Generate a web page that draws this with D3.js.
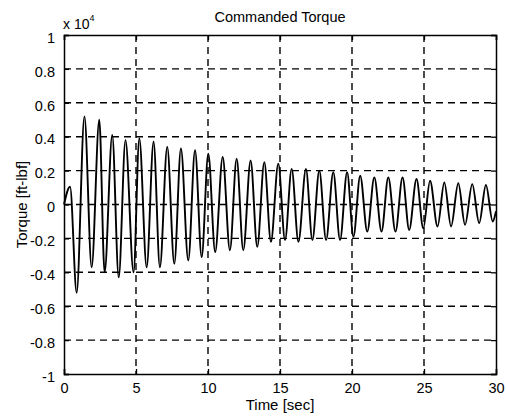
<!DOCTYPE html>
<html><head><meta charset="utf-8">
<script src="https://cdn.jsdelivr.net/npm/d3@7"></script>
<style>
body{margin:0;background:#fff;}
text{font-family:"Liberation Sans",Arial,Helvetica,sans-serif;fill:#000;}
</style></head>
<body><svg id="c" width="506" height="418"></svg>
<script>
// Extrema of the commanded torque signal (time in sec, value in x10^4 ft-lbf)
const times = [0, 0.42, 0.88, 1.42, 1.92, 2.45, 2.82, 3.35, 3.8, 4.27, 4.83, 5.23, 5.74, 6.22, 6.66, 7.17, 7.66, 8.12, 8.63, 9.1, 9.56, 10.02, 10.5, 11.02, 11.52, 11.99, 12.45, 12.96, 13.42, 13.91, 14.37, 14.88, 15.35, 15.81, 16.28, 16.8, 17.25, 17.73, 18.2, 18.7, 19.17, 19.66, 20.1, 20.57, 21.06, 21.55, 22.05, 22.52, 23.02, 23.51, 23.97, 24.48, 24.95, 25.42, 25.94, 26.41, 26.88, 27.38, 27.85, 28.35, 28.83, 29.3, 29.77, 30];
const torque = [0, 0.105, -0.52, 0.52, -0.37, 0.50, -0.40, 0.41, -0.43, 0.38, -0.40, 0.39, -0.37, 0.37, -0.37, 0.34, -0.35, 0.33, -0.33, 0.32, -0.31, 0.30, -0.28, 0.28, -0.27, 0.27, -0.27, 0.26, -0.25, 0.25, -0.22, 0.24, -0.21, 0.21, -0.22, 0.21, -0.21, 0.20, -0.21, 0.19, -0.21, 0.19, -0.19, 0.17, -0.16, 0.16, -0.16, 0.16, -0.16, 0.16, -0.15, 0.15, -0.14, 0.14, -0.13, 0.13, -0.13, 0.125, -0.12, 0.12, -0.11, 0.115, -0.10, -0.04];
const xTicks = [0, 5, 10, 15, 20, 25, 30];
const yTicks = [-1, -0.8, -0.6, -0.4, -0.2, 0, 0.2, 0.4, 0.6, 0.8, 1];
const yTickLabels = ["-1", "-0.8", "-0.6", "-0.4", "-0.2", "0", "0.2", "0.4", "0.6", "0.8", "1"];
const titleText = "Commanded Torque";
const xLabel = "Time [sec]";
const yLabel = "Torque [ft-lbf]";

const svg = d3.select("#c");
const L = 64, R = 496, T = 35, B = 374;
const x = d3.scaleLinear().domain([0, 30]).range([L, R]);
const y = d3.scaleLinear().domain([-1, 1]).range([B, T]);

// grid
const g = svg.append("g");
g.selectAll("line.vx").data(xTicks.slice(1, -1)).join("line")
  .attr("x1", d => x(d)).attr("x2", d => x(d)).attr("y1", T).attr("y2", B)
  .attr("stroke", "#000").attr("stroke-width", 1.4).attr("stroke-dasharray", "7,5");
g.selectAll("line.hy").data(yTicks.slice(1, -1)).join("line")
  .attr("y1", d => y(d)).attr("y2", d => y(d)).attr("x1", L).attr("x2", R)
  .attr("stroke", "#000").attr("stroke-width", 1.4).attr("stroke-dasharray", "7,5");

// signal
const pts = times.map((t, i) => [t, torque[i]]);
svg.append("path").datum(pts)
  .attr("d", d3.line().x(d => x(d[0])).y(d => y(d[1])).curve(d3.curveMonotoneX))
  .attr("fill", "none").attr("stroke", "#000").attr("stroke-width", 1.9);

// axes (MATLAB style, ticks inward)
const xa = svg.append("g").attr("transform", `translate(0,${B})`)
  .call(d3.axisBottom(x).tickValues(xTicks).tickSize(-5).tickPadding(9).tickFormat(d3.format("d")));
const xa2 = svg.append("g").attr("transform", `translate(0,${T})`)
  .call(d3.axisTop(x).tickValues(xTicks).tickSize(-5).tickFormat(""));
const ya = svg.append("g").attr("transform", `translate(${L},0)`)
  .call(d3.axisLeft(y).tickValues(yTicks).tickSize(-5).tickPadding(9).tickFormat((d, i) => yTickLabels[i]));
const ya2 = svg.append("g").attr("transform", `translate(${R},0)`)
  .call(d3.axisRight(y).tickValues(yTicks).tickSize(-5).tickFormat(""));
[xa, xa2, ya, ya2].forEach(a => {
  a.selectAll("path.domain").attr("stroke", "#000").attr("stroke-width", 1.5);
  a.selectAll(".tick line").attr("stroke", "#000").attr("stroke-width", 1.3);
  a.selectAll("text").attr("font-size", 14.5).attr("font-family", "Liberation Sans, Arial, sans-serif").attr("fill", "#000");
});
xa.selectAll("text").attr("dy", "0.72em");
ya.selectAll("text").attr("dy", "0.5em");

// title & labels
svg.append("text").attr("x", (L + R) / 2).attr("y", 22).attr("text-anchor", "middle")
  .attr("font-size", 14.5).text(titleText);
svg.append("text").attr("x", (L + R) / 2).attr("y", 410).attr("text-anchor", "middle")
  .attr("font-size", 15).text(xLabel);
svg.append("text").attr("transform", `translate(27,${(T + B) / 2}) rotate(-90)`).attr("text-anchor", "middle")
  .attr("font-size", 15).text(yLabel);
const ex = svg.append("text").attr("x", 63).attr("y", 29).attr("font-size", 14);
ex.append("tspan").text("x 10");
ex.append("tspan").attr("dy", -8).attr("font-size", 9).text("4");
</script></body></html>
